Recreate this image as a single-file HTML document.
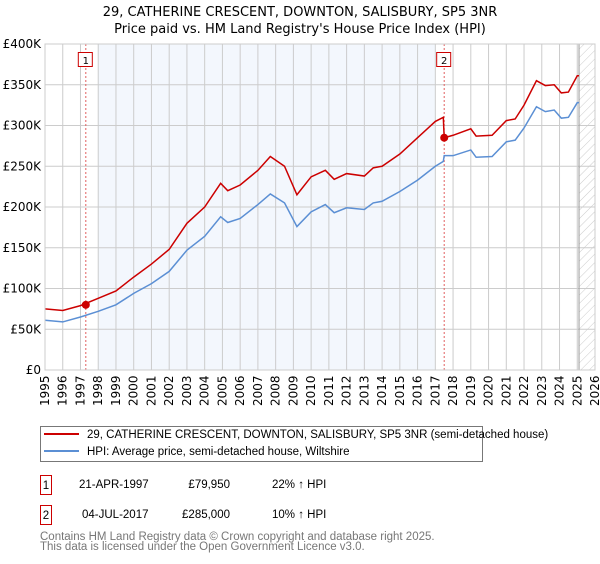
<!DOCTYPE html>
<html><head><meta charset="utf-8"><style>
body{margin:0;background:#fff;width:600px;height:560px;overflow:hidden;font-family:"DejaVu Sans","Liberation Sans",sans-serif;}
svg text{font-family:"DejaVu Sans","Liberation Sans",sans-serif;}
svg text.lib{font-family:"Liberation Sans",sans-serif;}
</style></head><body>
<svg id="chart" width="600" height="560">
<defs><pattern id="hatch" width="6" height="6" patternUnits="userSpaceOnUse" patternTransform="rotate(45)"><line x1="0" y1="0" x2="0" y2="6" stroke="#ccc" stroke-width="1"/></pattern></defs>
<text x="300" y="16" text-anchor="middle" font-size="13">29, CATHERINE CRESCENT, DOWNTON, SALISBURY, SP5 3NR</text>
<text x="300" y="33" text-anchor="middle" font-size="13">Price paid vs. HM Land Registry's House Price Index (HPI)</text>
<g id="plot"></g>
<g>
<rect x="40.5" y="426.5" width="442" height="35" fill="#fff" stroke="#777"/>
<line x1="44" y1="434" x2="79" y2="434" stroke="#cc0000" stroke-width="2"/>
<text class="lib" x="87" y="438" font-size="11.5">29, CATHERINE CRESCENT, DOWNTON, SALISBURY, SP5 3NR (semi-detached house)</text>
<line x1="44" y1="451" x2="79" y2="451" stroke="#5b8fd4" stroke-width="2"/>
<text class="lib" x="87" y="455" font-size="11.5">HPI: Average price, semi-detached house, Wiltshire</text>
</g>
<g font-size="11.5">
<rect x="40.5" y="475.5" width="11" height="19" fill="#fff" stroke="#cc0000"/><text class="lib" x="46" y="489" text-anchor="middle">1</text>
<text class="lib" x="79" y="488">21-APR-1997</text><text class="lib" x="230" y="488" text-anchor="end">£79,950</text><text class="lib" x="272" y="488">22% ↑ HPI</text>
<rect x="40.5" y="505.5" width="11" height="19" fill="#fff" stroke="#cc0000"/><text class="lib" x="46" y="519" text-anchor="middle">2</text>
<text class="lib" x="82" y="518">04-JUL-2017</text><text class="lib" x="230" y="518" text-anchor="end">£285,000</text><text class="lib" x="272" y="518">10% ↑ HPI</text>
</g>
<text class="lib" x="40" y="540" font-size="11.5" fill="#777">Contains HM Land Registry data © Crown copyright and database right 2025.</text>
<text class="lib" x="40" y="550" font-size="11.5" fill="#777">This data is licensed under the Open Government Licence v3.0.</text>
</svg>
<script>
const years=[1995,1996,1997,1998,1999,2000,2001,2002,2003,2004,2004.9,2005.3,2006,2007,2007.7,2008.5,2009.2,2010,2010.8,2011.3,2012,2013,2013.5,2014,2015,2016,2017,2017.45,2017.5,2018,2019,2019.3,2020.2,2021,2021.5,2022,2022.7,2023.2,2023.7,2024.1,2024.5,2025,2025.1];
const hpiValues=[61,59,65,72,80,94,106,121,147,164,188,181,186,203,216,205,176,194,203,193,199,197,205,207,219,233,250,256,263,263,270,261,262,280,282,297,323,317,319,309,310,328,328];
const propValues=[75,73,79,88,97,114,130,148,180,200,229,220,227,245,262,250,215,237,245,234,241,238,248,250,265,285,305,310,285,288,296,287,288,306,308,325,355,349,350,340,341,361,361];
const saleDates=[1997.3,2017.5];
const saleValues=[79.95,285];
const yTicks=[0,50,100,150,200,250,300,350,400];
const yTickLabels=["£0","£50K","£100K","£150K","£200K","£250K","£300K","£350K","£400K"];
const xTicks=[1995,1996,1997,1998,1999,2000,2001,2002,2003,2004,2005,2006,2007,2008,2009,2010,2011,2012,2013,2014,2015,2016,2017,2018,2019,2020,2021,2022,2023,2024,2025,2026];
const L=45,R=595,T=44,B=370;
const X=v=>L+(v-1995)/31*(R-L);
const Y=v=>B-v/400*(B-T);
const NS="http://www.w3.org/2000/svg";
const g=document.getElementById('plot');
function mk(tag,attrs){const e=document.createElementNS(NS,tag);for(const k in attrs)e.setAttribute(k,attrs[k]);g.appendChild(e);return e;}
let e;
e=mk('rect',{x:X(1998),y:T,width:X(2017)-X(1998),height:B-T,fill:'#eef3fc',opacity:0.7});


e=mk('rect',{x:X(2025.1),y:T,width:R-X(2025.1),height:B-T,fill:'url(#hatch)'});


xTicks.forEach(t=>{
 e=mk('line',{x1:X(t),y1:T,x2:X(t),y2:B,stroke:'#ccc','stroke-width':1});
 
 
 e=mk('text',{x:0,y:0,transform:`translate(${X(t)+4},${B+36}) rotate(-90)`,'font-size':12});
 e.textContent=t;
 
 
});
yTicks.forEach((t,i)=>{
 e=mk('line',{x1:L,y1:Y(t),x2:R,y2:Y(t),stroke:'#ccc','stroke-width':1});
 
 
 e=mk('text',{x:L-4,y:Y(t)+4,'text-anchor':'end','font-size':12});
 e.textContent=yTickLabels[i];
 
 
});
e=mk('line',{x1:X(2025.1),y1:T,x2:X(2025.1),y2:B,stroke:'#999','stroke-width':1});


saleDates.forEach((d,i)=>{
 e=mk('line',{x1:X(d),y1:T,x2:X(d),y2:B,stroke:'#e06060','stroke-width':1,'stroke-dasharray':'2,2'});
 
 
 e=mk('rect',{x:X(d)-7.5,y:52.5,width:14,height:14,fill:'#fff',stroke:'#cc0000'});
 
 
 e=mk('text',{x:X(d),y:64,'text-anchor':'middle','font-size':10});
 e.textContent=String(i+1);
 
 
});
e=mk('polyline',{points:years.map((y,i)=>X(y)+','+Y(hpiValues[i])).join(' '),fill:'none',stroke:'#5b8fd4','stroke-width':1.5});


e=mk('polyline',{points:years.map((y,i)=>X(y)+','+Y(propValues[i])).join(' '),fill:'none',stroke:'#cc0000','stroke-width':1.5});


saleDates.forEach((d,i)=>{
 e=mk('circle',{cx:X(d),cy:Y(saleValues[i]),r:4,fill:'#cc0000'});
 
 
});
e=mk('rect',{x:L,y:T,width:R-L,height:B-T,fill:'none',stroke:'#ccc'});


</script>
</body></html>
